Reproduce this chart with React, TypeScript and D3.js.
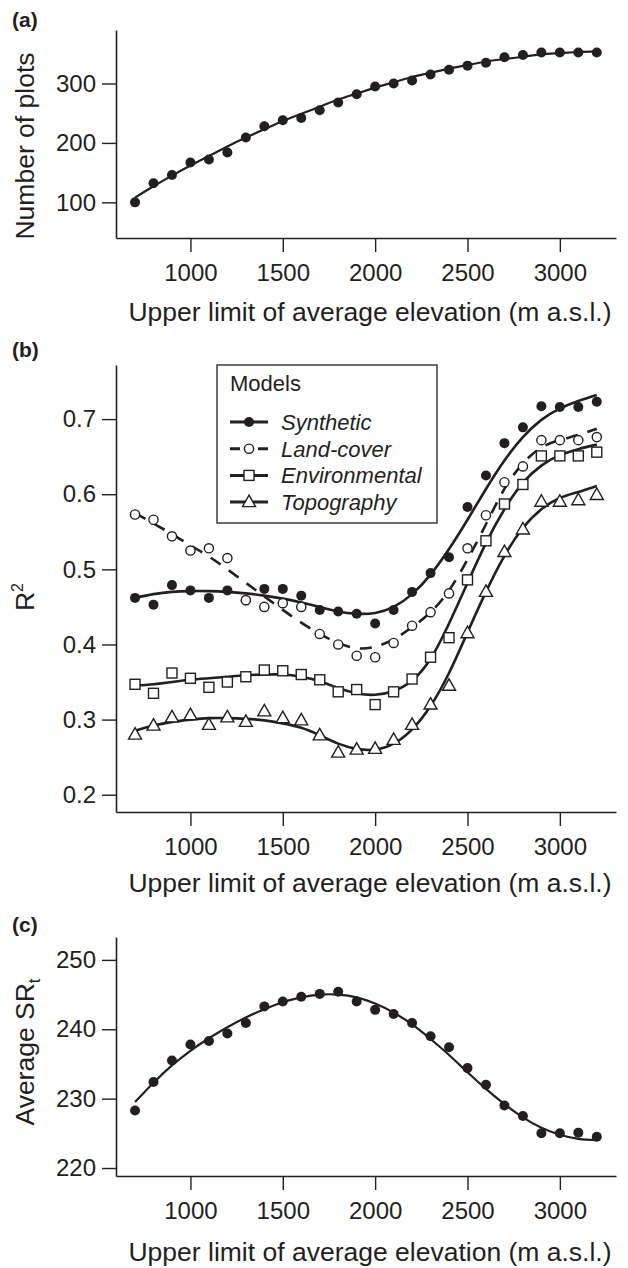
import React, { useEffect, useRef } from 'react'
import * as d3 from 'd3'

// upper limit of average elevation (m a.s.l.)
const elevation = [700, 800, 900, 1000, 1100, 1200, 1300, 1400, 1500, 1600, 1700, 1800, 1900,
	2000, 2100, 2200, 2300, 2400, 2500, 2600, 2700, 2800, 2900, 3000, 3100, 3200]
const elevationTicks = [1000, 1500, 2000, 2500, 3000]

// (a) number of plots
const plotCount = [100, 132, 146, 167, 172, 184, 209, 228, 238, 242, 255, 268, 282,
	295, 300, 305, 315, 323, 330, 335, 344, 348, 352, 352, 352, 352]
const plotCountFit = [108, 127, 145, 162, 178, 194, 209, 223, 237, 249, 261, 273, 283,
	293, 302, 311, 318, 325, 331, 337, 341, 345, 349, 351, 353, 354]
const plotTicks = [100, 200, 300]

// (b) R2 of the models
const synthetic = [0.462, 0.453, 0.479, 0.472, 0.462, 0.472, 0.459, 0.474, 0.474, 0.465, 0.446, 0.444, 0.441,
	0.428, 0.446, 0.470, 0.495, 0.516, 0.583, 0.625, 0.668, 0.689, 0.717, 0.716, 0.716, 0.723]
const syntheticFit = [0.462, 0.467, 0.470, 0.471, 0.471, 0.470, 0.468, 0.465, 0.461, 0.456, 0.450, 0.444, 0.441,
	0.442, 0.450, 0.467, 0.493, 0.527, 0.566, 0.607, 0.645, 0.676, 0.699, 0.714, 0.724, 0.732]
const landCover = [0.573, 0.566, 0.544, 0.525, 0.528, 0.515, 0.459, 0.450, 0.455, 0.450, 0.414, 0.400, 0.385,
	0.383, 0.402, 0.425, 0.443, 0.468, 0.528, 0.572, 0.616, 0.637, 0.672, 0.672, 0.672, 0.676]
const landCoverFit = [0.575, 0.561, 0.547, 0.532, 0.517, 0.500, 0.482, 0.464, 0.446, 0.429, 0.414, 0.402, 0.395,
	0.397, 0.407, 0.423, 0.443, 0.472, 0.513, 0.560, 0.607, 0.641, 0.662, 0.672, 0.679, 0.687]
const environmental = [0.347, 0.335, 0.362, 0.355, 0.343, 0.350, 0.357, 0.366, 0.365, 0.360, 0.353, 0.337, 0.340,
	0.320, 0.337, 0.354, 0.383, 0.409, 0.486, 0.538, 0.587, 0.613, 0.651, 0.651, 0.651, 0.656]
const environmentalFit = [0.345, 0.347, 0.350, 0.353, 0.355, 0.357, 0.359, 0.360, 0.360, 0.357, 0.351, 0.342, 0.335,
	0.333, 0.338, 0.352, 0.381, 0.428, 0.482, 0.535, 0.580, 0.615, 0.638, 0.652, 0.660, 0.666]
const topography = [0.280, 0.292, 0.303, 0.306, 0.293, 0.303, 0.297, 0.311, 0.302, 0.299, 0.279, 0.256, 0.260,
	0.261, 0.273, 0.293, 0.320, 0.345, 0.415, 0.470, 0.523, 0.553, 0.590, 0.590, 0.592, 0.599]
const topographyFit = [0.285, 0.292, 0.297, 0.300, 0.302, 0.302, 0.301, 0.299, 0.295, 0.289, 0.279, 0.268, 0.261,
	0.260, 0.268, 0.287, 0.318, 0.362, 0.416, 0.470, 0.518, 0.555, 0.580, 0.595, 0.603, 0.611]
const r2Ticks = [0.2, 0.3, 0.4, 0.5, 0.6, 0.7]
const modelNames = ['Synthetic', 'Land-cover', 'Environmental', 'Topography']

// (c) average SRt
const srt = [228.3, 232.4, 235.5, 237.8, 238.3, 239.4, 240.9, 243.3, 244.0, 244.7, 245.1, 245.4, 244.0,
	242.8, 242.2, 240.9, 239.0, 237.4, 234.4, 232.0, 229.0, 227.5, 225.0, 225.0, 225.1, 224.5]
const srtFit = [229.5, 232.3, 234.8, 236.9, 238.7, 240.3, 241.7, 242.9, 243.9, 244.6, 245.0, 245.0, 244.6,
	243.7, 242.4, 240.7, 238.6, 236.3, 233.8, 231.4, 229.2, 227.3, 225.8, 224.8, 224.2, 224.0]
const srtTicks = [220, 230, 240, 250]

const FONT = '"Liberation Sans", Arial, Helvetica, sans-serif'
const INK = '#231f20'
const X_TITLE = 'Upper limit of average elevation (m a.s.l.)'

function marker(g, kind, cx, cy){
	if(kind === 'dot'){
		g.append('circle').attr('cx', cx).attr('cy', cy).attr('r', 5).attr('fill', INK)
	} else if(kind === 'circle'){
		g.append('circle').attr('cx', cx).attr('cy', cy).attr('r', 4.6)
			.attr('fill', '#fff').attr('stroke', INK).attr('stroke-width', 1.4)
	} else if(kind === 'square'){
		g.append('rect').attr('x', cx - 5).attr('y', cy - 5).attr('width', 10).attr('height', 10)
			.attr('fill', '#fff').attr('stroke', INK).attr('stroke-width', 1.4)
	} else {
		g.append('path').attr('d', 'M' + cx + ',' + (cy - 7) + 'L' + (cx + 6.5) + ',' + (cy + 4.5) + 'L' + (cx - 6.5) + ',' + (cy + 4.5) + 'Z')
			.attr('fill', '#fff').attr('stroke', INK).attr('stroke-width', 1.4)
	}
}

function axes(svg, x, y, yTicks, fmt, xAxisY, titleY){
	let yAxis = svg.append('g').attr('transform', 'translate(116,0)')
		.call(d3.axisLeft(y).tickValues(yTicks).tickFormat(fmt).tickSize(14).tickPadding(6).tickSizeOuter(0))
	let xAxis = svg.append('g').attr('transform', 'translate(0,' + xAxisY + ')')
		.call(d3.axisBottom(x).tickValues(elevationTicks).tickFormat(d3.format('d')).tickSize(14).tickPadding(12).tickSizeOuter(0))
	for(let a of [yAxis, xAxis]){
		a.attr('font-family', FONT).attr('font-size', 24)
		a.selectAll('text').attr('fill', INK)
		a.selectAll('line').attr('stroke', INK).attr('stroke-width', 1.4)
		a.select('.domain').attr('stroke', INK).attr('stroke-width', 1.6)
	}
	svg.append('text').attr('x', 370).attr('y', titleY).attr('text-anchor', 'middle')
		.attr('font-family', FONT).attr('font-size', 26.5).attr('fill', INK).text(X_TITLE)
}

function panelLabel(svg, label, y){
	svg.append('text').attr('x', 12).attr('y', y).attr('font-family', FONT)
		.attr('font-weight', 'bold').attr('font-size', 21).attr('fill', INK).text(label)
}

export default function App(){
	const ref = useRef(null)

	useEffect(() => {
		let svg = d3.select(ref.current)
		svg.selectAll('*').remove()
		let x = d3.scaleLinear().domain([597, 3304]).range([116, 616])

		// ---- (a)
		let ya = d3.scaleLinear().domain([40, 390]).range([238, 30])
		panelLabel(svg, '(a)', 27)
		axes(svg, x, ya, plotTicks, d3.format('d'), 238, 321)
		svg.append('text').attr('transform', 'translate(34,146) rotate(-90)').attr('text-anchor', 'middle')
			.attr('font-family', FONT).attr('font-size', 26.5).attr('fill', INK).text('Number of plots')
		let lineA = d3.line().x((d, i) => x(elevation[i])).y(d => ya(d)).curve(d3.curveNatural)
		svg.append('path').attr('d', lineA(plotCountFit)).attr('fill', 'none').attr('stroke', INK).attr('stroke-width', 2.2)
		let ga = svg.append('g')
		plotCount.forEach((v, i) => marker(ga, 'dot', x(elevation[i]), ya(v)))

		// ---- (b)
		let yb = d3.scaleLinear().domain([0.177, 0.772]).range([812, 365])
		panelLabel(svg, '(b)', 357)
		axes(svg, x, yb, r2Ticks, d3.format('.1f'), 812, 892)
		let r2 = svg.append('text').attr('transform', 'translate(34,597) rotate(-90)').attr('text-anchor', 'middle')
			.attr('font-family', FONT).attr('font-size', 26.5).attr('fill', INK)
		r2.append('tspan').text('R')
		r2.append('tspan').attr('font-size', 16).attr('dy', -11).text('2')

		let series = [
			{ name: modelNames[0], pts: synthetic, fit: syntheticFit, kind: 'dot', dash: null },
			{ name: modelNames[1], pts: landCover, fit: landCoverFit, kind: 'circle', dash: '12,10' },
			{ name: modelNames[2], pts: environmental, fit: environmentalFit, kind: 'square', dash: null },
			{ name: modelNames[3], pts: topography, fit: topographyFit, kind: 'triangle', dash: null }
		]
		let lineB = d3.line().x((d, i) => x(elevation[i])).y(d => yb(d)).curve(d3.curveNatural)
		series.forEach(s => {
			svg.append('path').attr('d', lineB(s.fit)).attr('fill', 'none').attr('stroke', INK)
				.attr('stroke-width', 2.6).attr('stroke-dasharray', s.dash)
		})
		series.forEach(s => {
			let g = svg.append('g')
			s.pts.forEach((v, i) => marker(g, s.kind, x(elevation[i]), yb(v)))
		})

		// legend
		let lg = svg.append('g')
		lg.append('rect').attr('x', 217).attr('y', 365).attr('width', 220).attr('height', 158)
			.attr('fill', '#fff').attr('stroke', INK).attr('stroke-width', 1.3)
		lg.append('text').attr('x', 230).attr('y', 391).attr('font-family', FONT).attr('font-size', 22)
			.attr('fill', INK).text('Models')
		series.forEach((s, i) => {
			let ly = 422 + i * 26.7
			lg.append('line').attr('x1', 230).attr('x2', 268).attr('y1', ly).attr('y2', ly)
				.attr('stroke', INK).attr('stroke-width', 3).attr('stroke-dasharray', s.dash ? '10,18' : null)
			marker(lg, s.kind, 249, ly)
			lg.append('text').attr('x', 281).attr('y', ly + 8).attr('font-family', FONT).attr('font-size', 22)
				.attr('font-style', 'italic').attr('fill', INK).text(s.name)
		})

		// ---- (c)
		let yc = d3.scaleLinear().domain([218.85, 253.3]).range([1176, 937])
		panelLabel(svg, '(c)', 932)
		axes(svg, x, yc, srtTicks, d3.format('d'), 1176, 1261)
		let sr = svg.append('text').attr('transform', 'translate(34,1052) rotate(-90)').attr('text-anchor', 'middle')
			.attr('font-family', FONT).attr('font-size', 26.5).attr('fill', INK)
		sr.append('tspan').text('Average SR')
		sr.append('tspan').attr('font-size', 17).attr('dy', 6).text('t')
		let lineC = d3.line().x((d, i) => x(elevation[i])).y(d => yc(d)).curve(d3.curveNatural)
		svg.append('path').attr('d', lineC(srtFit)).attr('fill', 'none').attr('stroke', INK).attr('stroke-width', 2.2)
		let gc = svg.append('g')
		srt.forEach((v, i) => marker(gc, 'dot', x(elevation[i]), yc(v)))
	}, [])

	return (
		<svg ref={ref} width={628} height={1268}
			style={{ position: 'absolute', left: 0, top: 0, background: '#fff' }}>
		</svg>
	)
}
